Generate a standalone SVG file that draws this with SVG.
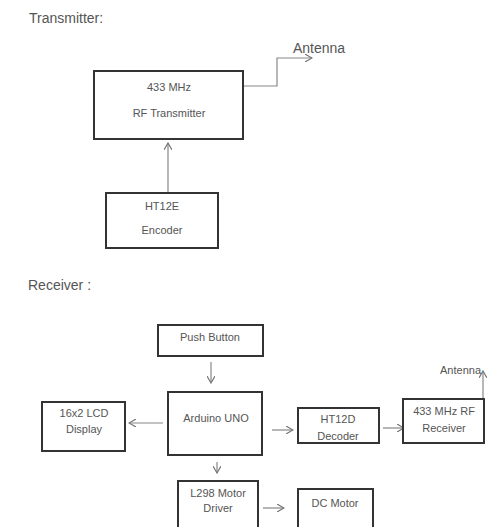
<svg xmlns="http://www.w3.org/2000/svg" width="487" height="527" viewBox="0 0 487 527">
<style>
.box{fill:#fff;stroke:#333;stroke-width:2}
.lbl{font-family:"Liberation Sans",Arial,sans-serif;font-size:11px;fill:#555;text-anchor:middle}
.hd{font-family:"Liberation Sans",Arial,sans-serif;font-size:14px;fill:#555}
.con{fill:none;stroke:#888;stroke-width:1.2}
</style>
<defs>
<marker id="ah" viewBox="0 0 8 8" refX="7" refY="4" markerWidth="8" markerHeight="8" markerUnits="userSpaceOnUse" orient="auto">
<path d="M0,0 L7,4 L0,8" fill="none" stroke="#777" stroke-width="1.2"/>
</marker>
</defs>
<rect width="487" height="527" fill="#fff"/>
<text class="hd" x="29" y="23">Transmitter:</text>
<text class="hd" x="28" y="290">Receiver :</text>

<g id="connectors">
<polyline class="con" points="243,86 277,86 277,58 312,58" marker-end="url(#ah)"/>
<line class="con" x1="168" y1="193" x2="168" y2="143" marker-end="url(#ah)"/>
<line class="con" x1="211" y1="362" x2="211" y2="383" marker-end="url(#ah)"/>
<line class="con" x1="163" y1="423" x2="129" y2="423" marker-end="url(#ah)"/>
<line class="con" x1="272" y1="430" x2="293" y2="430" marker-end="url(#ah)"/>
<line class="con" x1="383" y1="428" x2="404" y2="428" marker-end="url(#ah)"/>
<line class="con" x1="483" y1="399" x2="483" y2="371" marker-end="url(#ah)"/>
<line class="con" x1="217" y1="462" x2="217" y2="473" marker-end="url(#ah)"/>
<line class="con" x1="263" y1="508" x2="284" y2="508" marker-end="url(#ah)"/>
</g>

<g id="tx-antenna"><text class="hd" x="293" y="53">Antenna</text></g>
<g id="rf-transmitter">
<rect class="box" x="94" y="71" width="149" height="68"/>
<text class="lbl" x="169" y="91">433 MHz</text>
<text class="lbl" x="169" y="117">RF Transmitter</text>
</g>
<g id="encoder">
<rect class="box" x="106" y="193" width="112" height="55"/>
<text class="lbl" x="162" y="210">HT12E</text>
<text class="lbl" x="162" y="234">Encoder</text>
</g>

<g id="push-button">
<rect class="box" x="158" y="325" width="105" height="31"/>
<text class="lbl" x="210" y="341">Push Button</text>
</g>
<g id="arduino">
<rect class="box" x="168" y="392" width="94" height="63"/>
<text class="lbl" x="216" y="422">Arduino UNO</text>
</g>
<g id="lcd">
<rect class="box" x="42" y="402" width="83" height="49"/>
<text class="lbl" x="84" y="417">16x2 LCD</text>
<text class="lbl" x="84" y="433">Display</text>
</g>
<g id="decoder">
<rect class="box" x="298" y="408" width="81" height="35"/>
<text class="lbl" x="338" y="423">HT12D</text>
<text class="lbl" x="338" y="440">Decoder</text>
</g>
<g id="rf-receiver">
<rect class="box" x="403" y="399" width="81" height="44"/>
<text class="lbl" x="444" y="415">433 MHz RF</text>
<text class="lbl" x="444" y="432">Receiver</text>
</g>
<g id="rx-antenna"><text class="lbl" x="481" y="374" style="text-anchor:end">Antenna</text></g>
<g id="l298">
<rect class="box" x="178" y="481" width="80" height="60"/>
<text class="lbl" x="218" y="497">L298 Motor</text>
<text class="lbl" x="218" y="512">Driver</text>
</g>
<g id="dc-motor">
<rect class="box" x="298" y="489" width="75" height="52"/>
<text class="lbl" x="335" y="507">DC Motor</text>
</g>
</svg>
